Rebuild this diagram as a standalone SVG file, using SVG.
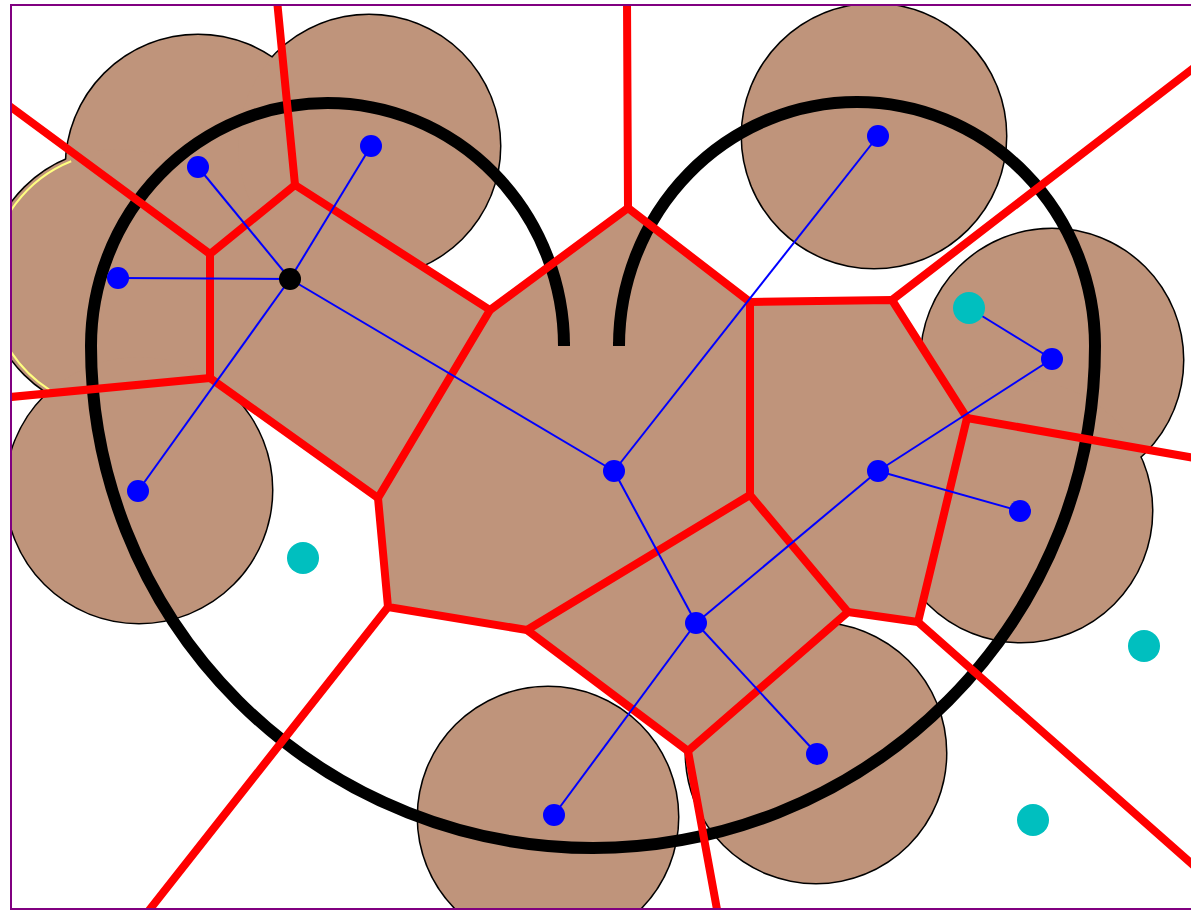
<svg xmlns="http://www.w3.org/2000/svg" width="1191" height="910" viewBox="0 0 1191 910">
  <style>
    .disk-o{fill:none;stroke:#000;stroke-width:3}
    .disk-f{fill:#BF947B;stroke:none}
    .cell{fill:#BF947B;stroke:none}
    .ring{fill:none;stroke:#000;stroke-width:12;stroke-linecap:butt}
    .red{fill:none;stroke:#FF0000;stroke-width:8;stroke-linejoin:round;stroke-linecap:round}
    .blue{stroke:#0000FF;stroke-width:2;fill:none}
    .bdot{fill:#0000FF}
    .kdot{fill:#000}
    .cdot{fill:#00BFBF}
  </style>
  <defs>
    <clipPath id="frame"><rect x="12" y="6" width="1185" height="902"/></clipPath>
  </defs>
  <rect x="0" y="0" width="1191" height="910" fill="#fff"/>
  <g clip-path="url(#frame)">
    <g id="disks-outline">
      <circle class="disk-o" cx="198" cy="167" r="132"/>
      <circle class="disk-o" cx="369" cy="146" r="131"/>
      <circle class="disk-o" cx="118" cy="281" r="132"/>
      <circle class="disk-o" cx="139" cy="490" r="133"/>
      <circle class="disk-o" cx="874" cy="136" r="132"/>
      <circle class="disk-o" cx="1052" cy="360" r="131"/>
      <circle class="disk-o" cx="1021" cy="511" r="131"/>
      <circle class="disk-o" cx="548" cy="817" r="130"/>
      <circle class="disk-o" cx="816" cy="753" r="130"/>
    </g>
    <g id="disks-fill">
      <circle class="disk-f" cx="198" cy="167" r="132"/>
      <circle class="disk-f" cx="369" cy="146" r="131"/>
      <circle class="disk-f" cx="118" cy="281" r="132"/>
      <circle class="disk-f" cx="139" cy="490" r="133"/>
      <circle class="disk-f" cx="874" cy="136" r="132"/>
      <circle class="disk-f" cx="1052" cy="360" r="131"/>
      <circle class="disk-f" cx="1021" cy="511" r="131"/>
      <circle class="disk-f" cx="548" cy="817" r="130"/>
      <circle class="disk-f" cx="816" cy="753" r="130"/>
    </g>
    <polygon id="cells" class="cell" points="295,185 210,254 210,378 378,498 388,607 527,630 688,751 848,612 918,622 967,418 892,300 750,302 628,208 490,310"/>
    <path id="yellow-arc" d="M 71.2 161.2 A 129 129 0 0 0 49.2 389.6" fill="none" stroke="#FFFF80" stroke-width="2"/>
    <path id="ring" class="ring" d="M 564 342 L 564 346 A 236.5 243 0 0 0 91 346 A 502 502 0 0 0 1095 346 A 238 244 0 0 0 619 346 L 619 342"/>
    <g id="connectors">
      <g id="voronoi">
        <line class="red" x1="295" y1="185" x2="277" y2="0"/>
        <line class="red" x1="210" y1="254" x2="0" y2="99"/>
        <line class="red" x1="210" y1="378" x2="0" y2="398"/>
        <line class="red" x1="628" y1="208" x2="627" y2="0"/>
        <line class="red" x1="892" y1="300" x2="1200" y2="63"/>
        <line class="red" x1="967" y1="418" x2="1200" y2="459"/>
        <line class="red" x1="918" y1="622" x2="1200" y2="871"/>
        <line class="red" x1="688" y1="751" x2="718" y2="915"/>
        <line class="red" x1="388" y1="607" x2="143" y2="918"/>
        <polyline class="red" points="295,185 210,254 210,378 378,498 388,607 527,630 688,751 848,612 918,622 967,418 892,300 750,302 628,208 490,310 295,185"/>
        <line class="red" x1="490" y1="310" x2="378" y2="498"/>
        <line class="red" x1="750" y1="302" x2="750" y2="495"/>
        <line class="red" x1="750" y1="495" x2="527" y2="630"/>
        <line class="red" x1="750" y1="495" x2="848" y2="612"/>
      </g>
      <g id="tree">
        <line class="blue" x1="198" y1="167" x2="290" y2="279"/>
        <line class="blue" x1="371" y1="146" x2="290" y2="279"/>
        <line class="blue" x1="290" y1="279" x2="138" y2="491"/>
        <line class="blue" x1="118" y1="278" x2="290" y2="279"/>
        <line class="blue" x1="290" y1="279" x2="614" y2="471"/>
        <line class="blue" x1="614" y1="471" x2="878" y2="136"/>
        <line class="blue" x1="614" y1="471" x2="696" y2="623"/>
        <line class="blue" x1="696" y1="623" x2="554" y2="815"/>
        <line class="blue" x1="696" y1="623" x2="817" y2="754"/>
        <line class="blue" x1="696" y1="623" x2="878" y2="471"/>
        <line class="blue" x1="878" y1="471" x2="1052" y2="359"/>
        <line class="blue" x1="878" y1="471" x2="1020" y2="511"/>
        <line class="blue" x1="1052" y1="359" x2="969" y2="308"/>
      </g>
    </g>
    <g id="nodes">
      <g id="n1"><circle class="bdot" cx="198" cy="167" r="11"/></g>
      <g id="n2"><circle class="bdot" cx="371" cy="146" r="11"/></g>
      <g id="n3"><circle class="bdot" cx="118" cy="278" r="11"/></g>
      <g id="n4"><circle class="bdot" cx="138" cy="491" r="11"/></g>
      <g id="n5"><circle class="bdot" cx="878" cy="136" r="11"/></g>
      <g id="n6"><circle class="bdot" cx="1052" cy="359" r="11"/></g>
      <g id="n7"><circle class="bdot" cx="1020" cy="511" r="11"/></g>
      <g id="n8"><circle class="bdot" cx="554" cy="815" r="11"/></g>
      <g id="n9"><circle class="bdot" cx="817" cy="754" r="11"/></g>
      <g id="n10"><circle class="bdot" cx="614" cy="471" r="11"/></g>
      <g id="n11"><circle class="bdot" cx="878" cy="471" r="11"/></g>
      <g id="n12"><circle class="bdot" cx="696" cy="623" r="11"/></g>
      <g id="root"><circle class="kdot" cx="290" cy="279" r="11"/></g>
      <g id="c1"><circle class="cdot" cx="969" cy="308" r="16"/></g>
      <g id="c2"><circle class="cdot" cx="303" cy="558" r="16"/></g>
      <g id="c3"><circle class="cdot" cx="1144" cy="646" r="16"/></g>
      <g id="c4"><circle class="cdot" cx="1033" cy="820" r="16"/></g>
    </g>
  </g>
  <rect id="border" x="11" y="5" width="1200" height="904" fill="none" stroke="#800080" stroke-width="2"/>
</svg>
